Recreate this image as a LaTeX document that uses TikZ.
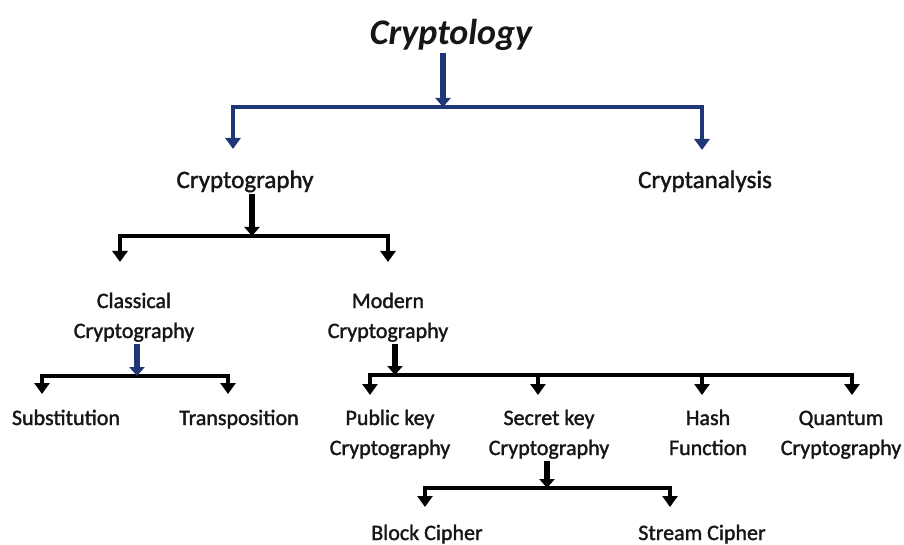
\documentclass[tikz,border=0pt]{standalone}
\usepackage{fontspec}
\setmainfont{Carlito}
\newfontfamily\lblfont{Carlito}[FakeBold=1.5]
\usetikzlibrary{arrows.meta}
\definecolor{navy}{RGB}{31,55,118}
\definecolor{ink}{RGB}{22,22,22}
\begin{document}
\begin{tikzpicture}[x=1pt,y=-1pt,
  title/.style={font=\fontsize{36}{40}\selectfont\bfseries\itshape, text=ink, inner sep=0pt, anchor=base},
  big/.style={font=\lblfont\fontsize{25}{30}\selectfont, text=ink, inner sep=0pt, anchor=base},
  lbl/.style={font=\lblfont\fontsize{22}{30}\selectfont, text=ink, inner sep=0pt, align=center, anchor=base},
  bus/.style={line width=4pt, draw=black, line join=miter,
    {Triangle[width=15pt,length=11pt]}-{Triangle[width=15pt,length=11pt]}},
  drop/.style={line width=4pt, draw=black, -{Triangle[width=15pt,length=11pt]}},
  stem/.style={line width=6pt, draw=black, shorten <=2pt, -{Triangle[width=15pt,length=9pt]}},
  bluebus/.style={bus, draw=navy, line width=3.5pt},
  bluestem/.style={stem, draw=navy},
]
\useasboundingbox[fill=white] (0,0) rectangle (904,545);

% nodes (two-line nodes are placed by the baseline of their last line)
\node[title] (cryptology) at (451,45) {Cryptology};
\node[big] (cryptography) at (245,188) {Cryptography};
\node[big] (cryptanalysis) at (705,188) {Cryptanalysis};
\node[lbl] (classical) at (134,338) {Classical\\Cryptography};
\node[lbl] (modern) at (388,338) {Modern\\Cryptography};
\node[lbl] (substitution) at (66,425) {Substitution};
\node[lbl] (transposition) at (239,425) {Transposition};
\node[lbl] (public) at (390,455) {Public key\\Cryptography};
\node[lbl] (secret) at (549,455) {Secret key\\Cryptography};
\node[lbl] (hash) at (708,455) {Hash\\Function};
\node[lbl] (quantum) at (841,455) {Quantum\\Cryptography};
\node[lbl] (block) at (427,540) {Block Cipher};
\node[lbl] (stream) at (702,540) {Stream Cipher};

% level 0 (blue)
\coordinate (j0) at (443,107);
\coordinate (l0) at (233,107);
\coordinate (r0) at (702,107);
\coordinate (tl0) at (233,149);
\coordinate (tr0) at (702,150);
\draw[bluebus] (tl0) -- (l0) -- (r0) -- (tr0);
\draw[bluestem] (cryptology.south -| j0) -- (j0);

% level 1
\coordinate (j1) at (252,236);
\coordinate (l1) at (120,236);
\coordinate (r1) at (388,236);
\coordinate (tl1) at (120,262);
\coordinate (tr1) at (388,262);
\draw[bus] (tl1) -- (l1) -- (r1) -- (tr1);
\draw[stem] (cryptography.south -| j1) -- (j1);

% level 2 left
\coordinate (j2) at (137,376);
\coordinate (l2) at (42,376);
\coordinate (r2) at (228,376);
\coordinate (tl2) at (42,394);
\coordinate (tr2) at (228,394);
\draw[bus] (tl2) -- (l2) -- (r2) -- (tr2);
\draw[bluestem] (classical.south -| j2) -- (j2);

% level 2 right
\coordinate (j3) at (395,375);
\coordinate (l3) at (370,375);
\coordinate (r3) at (852,375);
\coordinate (m3a) at (538,375);
\coordinate (m3b) at (702,375);
\coordinate (tl3) at (370,395);
\coordinate (tr3) at (852,395);
\coordinate (ta3) at (538,395);
\coordinate (tb3) at (702,395);
\draw[bus] (tl3) -- (l3) -- (r3) -- (tr3);
\draw[drop] (m3a) -- (ta3);
\draw[drop] (m3b) -- (tb3);
\draw[stem] (modern.south -| j3) -- (j3);

% level 3
\coordinate (j4) at (547,488);
\coordinate (l4) at (425,488);
\coordinate (r4) at (670,488);
\coordinate (tl4) at (425,507);
\coordinate (tr4) at (670,507);
\draw[bus] (tl4) -- (l4) -- (r4) -- (tr4);
\draw[stem] (secret.south -| j4) -- (j4);
\end{tikzpicture}
\end{document}
